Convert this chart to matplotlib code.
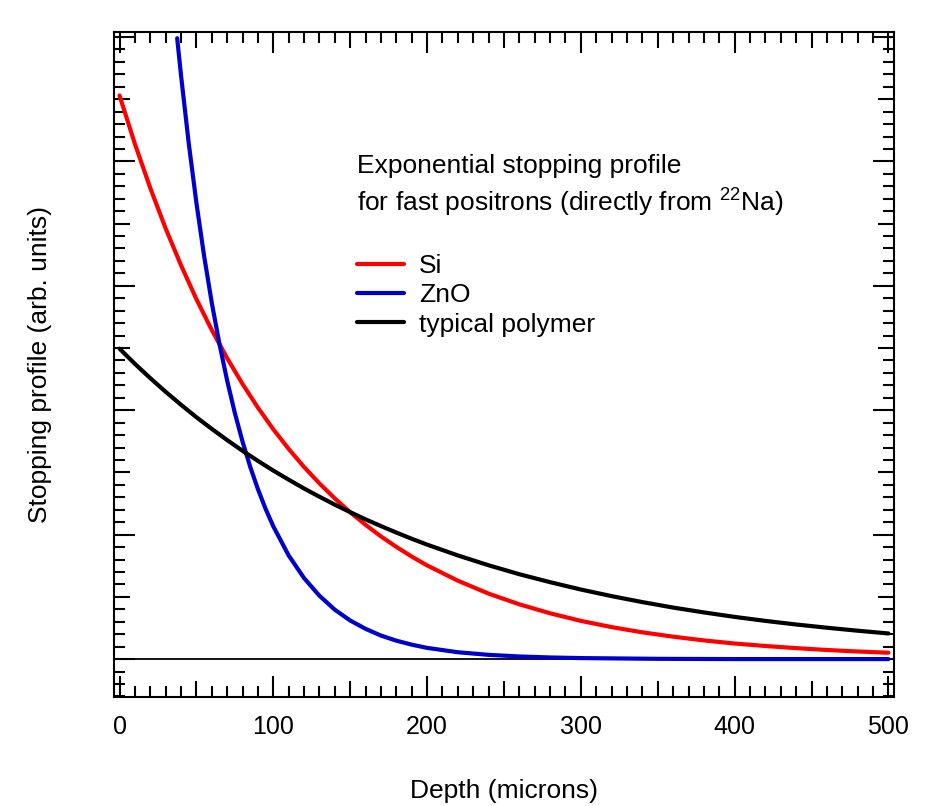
import numpy as np
import matplotlib.pyplot as plt
from matplotlib.ticker import MultipleLocator, NullFormatter

plt.rcParams['font.family'] = ['Liberation Sans', 'DejaVu Sans']
plt.rcParams['mathtext.default'] = 'regular'

# Datos (profundidad en micras, perfil en u.a.)
depth = [0, 10, 20, 30, 40, 50, 60, 70, 80, 90, 100, 110, 120, 130, 140, 150,
         160, 170, 180, 190, 200, 220, 240, 260, 280, 300, 320, 340, 360, 380,
         400, 420, 440, 460, 480, 500]
si = [4.530, 4.141, 3.786, 3.461, 3.165, 2.893, 2.645, 2.418, 2.211, 2.021,
      1.847, 1.689, 1.544, 1.412, 1.291, 1.180, 1.079, 0.986, 0.902, 0.824,
      0.753, 0.630, 0.526, 0.440, 0.368, 0.307, 0.257, 0.215, 0.180, 0.150,
      0.125, 0.105, 0.088, 0.073, 0.061, 0.051]
polymer = [2.495, 2.373, 2.258, 2.148, 2.044, 1.944, 1.850, 1.760, 1.674, 1.593,
           1.515, 1.442, 1.371, 1.305, 1.241, 1.181, 1.123, 1.069, 1.017, 0.967,
           0.920, 0.833, 0.754, 0.682, 0.618, 0.559, 0.506, 0.458, 0.414, 0.375,
           0.339, 0.307, 0.278, 0.252, 0.228, 0.206]

depth_zno = [37.5, 40, 45, 50, 55, 60, 65, 70, 75, 80, 85, 90, 95, 100, 110, 120,
             130, 140, 150, 160, 170, 180, 190, 200, 220, 240, 260, 280, 300, 350,
             400, 450, 500]
zno = [4.990, 4.692, 4.148, 3.667, 3.241, 2.864, 2.532, 2.238, 1.978, 1.748,
       1.545, 1.366, 1.207, 1.067, 0.833, 0.651, 0.509, 0.397, 0.310, 0.243,
       0.189, 0.148, 0.116, 0.090, 0.055, 0.034, 0.021, 0.013, 0.008, 0.002,
       0.000, 0.000, 0.000]

xticks = [0, 100, 200, 300, 400, 500]

fig = plt.figure(figsize=(9.45, 8.06), dpi=100)
ax = fig.add_axes([0.1206, 0.1352, 0.8254, 0.8251])

ax.axhline(0, color='black', lw=1.3, zorder=1)
ax.plot(depth, si, color='#ff0000', lw=3, solid_capstyle='round', label='Si', zorder=3)
ax.plot(depth_zno, zno, color='#0000cc', lw=3, solid_capstyle='round', label='ZnO', zorder=3)
ax.plot(depth, polymer, color='black', lw=3, solid_capstyle='round', label='typical polymer', zorder=3)

ax.set_xlim(-3.6, 503.6)
ax.set_ylim(-0.305, 5.04)

ax.xaxis.set_major_locator(MultipleLocator(100))
ax.xaxis.set_minor_locator(MultipleLocator(10))
ax.yaxis.set_major_locator(MultipleLocator(1))
ax.yaxis.set_minor_locator(MultipleLocator(0.1))
ax.set_xticks(xticks)
ax.yaxis.set_major_formatter(NullFormatter())

ax.tick_params(which='both', direction='in', top=True, right=True, width=1.5, colors='black')
ax.tick_params(which='major', length=15, labelsize=18, pad=13)
ax.tick_params(which='minor', length=8)
for s in ax.spines.values():
    s.set_linewidth(1.5)

# ticks intermedios (cada 50 en x, cada 0.5 en y)
fig.canvas.draw()
xmin = ax.xaxis.get_minorticklocs()
for t, loc in zip(ax.xaxis.get_minor_ticks(len(xmin)), xmin):
    if abs(loc / 50 - round(loc / 50)) < 1e-6:
        t.tick1line.set_markersize(11.5)
        t.tick2line.set_markersize(11.5)
ymin = ax.yaxis.get_minorticklocs()
for t, loc in zip(ax.yaxis.get_minor_ticks(len(ymin)), ymin):
    if abs(loc / 0.5 - round(loc / 0.5)) < 1e-6:
        t.tick1line.set_markersize(11.5)
        t.tick2line.set_markersize(11.5)

ax.set_xlabel('Depth (microns)', fontsize=19)
ax.set_ylabel('Stopping profile (arb. units)', fontsize=19)
ax.xaxis.set_label_coords(0.5, -0.124)
ax.yaxis.set_label_coords(-0.080, 0.5)

fig.text(357 / 945, 1 - 173 / 806, 'Exponential stopping profile', fontsize=19, va='baseline')
fig.text(357 / 945, 1 - 212 / 806, r'for fast positrons (directly from $^{22}$Na)', fontsize=19, va='baseline')

ax.legend(loc='upper left', bbox_to_anchor=(357 / 945, 1 - 254 / 806), bbox_transform=fig.transFigure,
          frameon=False, fontsize=19, handlelength=1.8, handletextpad=0.55, labelspacing=0.2,
          borderpad=0, borderaxespad=0)

fig.savefig('out.png', dpi=100)
